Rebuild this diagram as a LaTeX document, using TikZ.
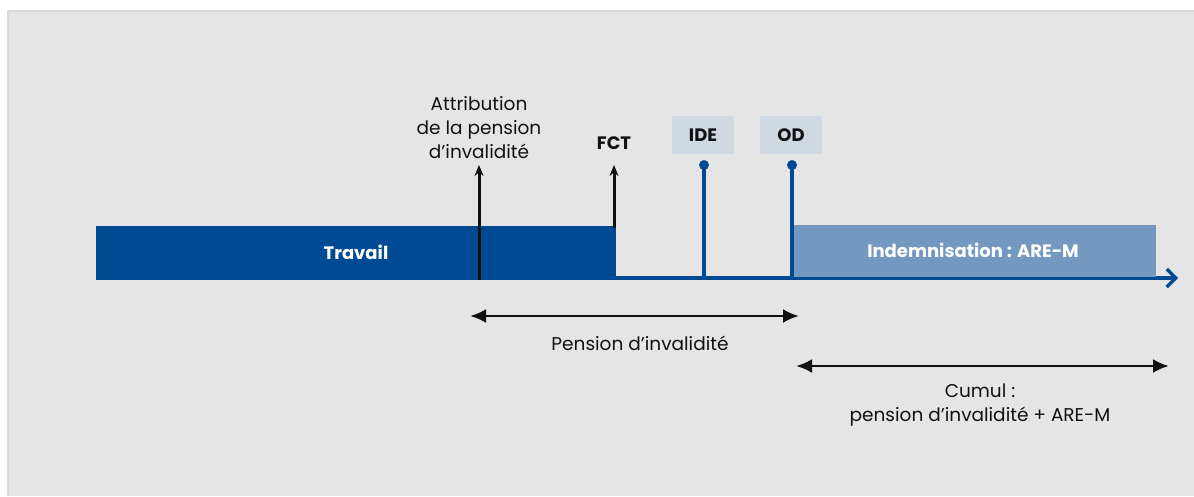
\documentclass[tikz,border=0pt]{standalone}
\usepackage{fontspec}
\setmainfont{Poppins}
\usetikzlibrary{arrows.meta}
\definecolor{panel}{HTML}{E5E5E5}
\definecolor{panelrule}{HTML}{DADADA}
\definecolor{darkblue}{HTML}{004A94}
\definecolor{lightblue}{HTML}{7399C1}
\definecolor{tagfill}{HTML}{D0D8E1}
\definecolor{ink}{HTML}{111111}
\tikzset{
  bar/.style={inner sep=0pt, outer sep=0pt, text=white, font=\bfseries\fontsize{18}{22}\selectfont},
  tag/.style={fill=tagfill, minimum width=62pt, minimum height=38pt, inner sep=0pt, font=\bfseries\fontsize{18}{22}\selectfont, text=ink},
  label/.style={text=ink, font=\fontsize{18.5}{24}\selectfont, align=center, inner sep=0pt},
  marker/.style={draw=ink, line width=3pt, -{Stealth[length=11pt,width=9pt]}},
  stem/.style={draw=darkblue, line width=3.2pt},
  span/.style={draw=ink, line width=2.8pt, {Latex[length=16pt,width=14pt]}-{Latex[length=16pt,width=14pt]}},
  axis/.style={draw=darkblue, line width=3.2pt, -{Straight Barb[length=9pt,width=18pt,line width=3.2pt]}},
}
\begin{document}
\begin{tikzpicture}[x=1pt, y=-1pt]
  \useasboundingbox (0,0) rectangle (1194,496);
  % panel
  \fill[panel] (7,10) rectangle (1194,496);
  \fill[panelrule] (7,10) rectangle (1194,12);
  \fill[panelrule] (7,10) rectangle (9,496);

  % time axis after the end of work
  \coordinate (axstart) at (614,278);
  \coordinate (axend) at (1178,278);
  \draw[axis] (axstart) -- (axend);

  % periods
  \fill[darkblue] (96,226) rectangle (616,280);
  \node[bar] (travail) at (356,252) {Travail};
  \fill[lightblue] (792,225) rectangle (1156,277);
  \node[bar] (indem) at (973,250) {Indemnisation : ARE-M};

  % events on the time line
  \coordinate (attrbase) at (479,280);
  \coordinate (attrtop) at (479,165);
  \draw[marker] (attrbase) -- (attrtop);
  \node[label] (attr) at (479,128) {Attribution\\de la pension\\d’invalidité};

  \coordinate (fctbase) at (614,228);
  \coordinate (fcttop) at (614,165);
  \draw[marker] (fctbase) -- (fcttop);
  \node[label, font=\bfseries\fontsize{18}{22}\selectfont] (fct) at (614,143) {FCT};

  \node[tag] (ide) at (703,135) {IDE};
  \coordinate (idebase) at (704,278);
  \coordinate (idetop) at (704,165);
  \draw[stem] (idebase) -- (idetop);
  \fill[darkblue] (idetop) circle (5pt);

  \node[tag] (od) at (791,135) {OD};
  \coordinate (odbase) at (792,278);
  \coordinate (odtop) at (792,165);
  \draw[stem] (odbase) -- (odtop);
  \fill[darkblue] (odtop) circle (5pt);

  % spans
  \coordinate (pensl) at (470,316);
  \coordinate (pensr) at (799,316);
  \draw[span] (pensl) -- (pensr);
  \node[label] (pens) at (640,343) {Pension d’invalidité};

  \coordinate (cuml) at (796,366);
  \coordinate (cumr) at (1169,366);
  \draw[span] (cuml) -- (cumr);
  \node[label] (cumul) at (980,405) {Cumul :\\pension d’invalidité + ARE-M};
\end{tikzpicture}
\end{document}
